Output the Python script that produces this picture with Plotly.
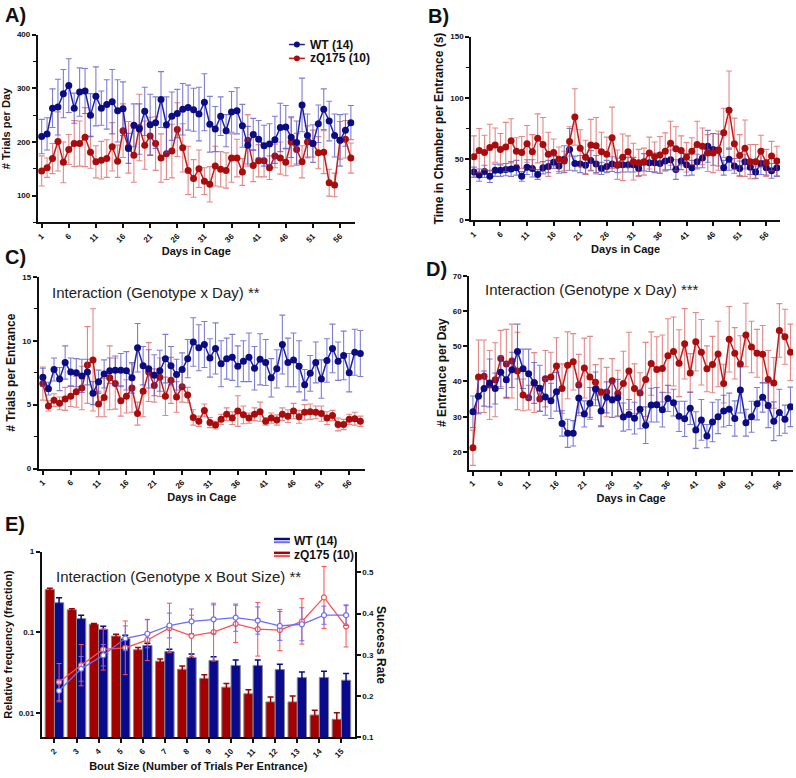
import plotly.graph_objects as go

W, H = 796, 778
def PX(v): return v / W
def PY(v): return 1 - v / H

days = list(range(1, 59))
day_ticks = list(range(1, 57, 5))

# ---------------- Panel A: # Trials per Day ----------------
A_wt = [210,215,263,265,290,305,263,293,295,250,285,263,270,275,258,262,188,231,224,257,
        232,236,279,232,248,253,261,264,260,252,274,233,224,248,221,256,258,230,194,214,
        205,193,196,204,227,228,209,199,269,212,197,234,261,239,212,203,222,236]
A_wt_err = [32,30,36,52,45,50,28,45,42,40,55,32,46,60,58,50,28,40,47,45,
            57,48,52,52,45,45,48,42,40,50,53,52,42,36,30,38,43,40,35,30,
            35,38,38,44,45,40,38,40,50,40,35,35,38,37,40,48,30,32]
A_zq = [146,152,169,201,162,186,197,197,209,181,163,166,169,191,164,221,190,175,227,194,
        211,197,170,178,183,223,189,147,132,150,127,121,155,149,147,170,170,144,203,156,
        165,165,152,174,170,162,200,186,163,200,197,180,181,124,120,203,205,170]
A_zq_err = [28,18,28,55,38,28,43,42,55,30,30,35,35,45,30,50,48,50,62,45,
            35,50,45,48,50,50,45,45,35,35,25,33,37,33,33,45,35,25,48,30,
            30,30,22,22,30,25,45,30,30,30,25,30,40,25,22,35,35,28]

# ---------------- Panel B: Time in chamber per entrance ----------------
B_wt = [39.5,37,40,36,41,41,41.5,42,43,36,43.5,42.5,37.5,43,44,47.5,44.5,50,58,46.5,
        46,45,49,46,42.5,44,46,45,45.5,45.5,45.5,42.5,47.5,47,47,46.5,48.5,49.5,41.5,48.5,
        45.5,43,48,51,60.5,58,57.5,43,50,44.5,42.5,48,43.5,39.5,46.5,43,40.5,43]
B_wt_err = [4,5,5,5,5,5,5,6,6,4,6,7,4,5,5,5,6,11,17,6,
            7,7,8,7,5,5,6,6,6,6,6,6,7,7,8,8,8,8,8,7,
            9,6,6,8,13,13,13,6,9,6,6,6,6,5,9,6,6,7]
B_zq = [52,57,55.5,59.5,61.5,58,60,65,56.5,55.5,62.5,56,67,62,54,55.5,50,48.5,64.5,84.5,
        59,51.5,61.5,61,56,54,67.5,45.5,51.5,56,48,47,48,55,52,53.5,56.5,63,58.5,57,
        51.5,56.5,62,60.5,55,55,57,71.5,90,62.5,53,59,48,48,56.5,47,52.5,48.5]
B_zq_err = [17,18,14,19,14,13,20,18,11,13,15,14,20,22,18,11,10,8,12,23,
            15,14,21,23,16,14,25,12,19,13,15,11,11,13,12,15,15,18,18,12,
            12,11,19,15,15,16,16,20,32,21,17,23,14,14,13,11,12,12]

# ---------------- Panel C: # Trials per Entrance ----------------
C_wt = [7.15,6.25,7.75,7.0,8.3,7.55,7.5,7.25,7.55,5.9,6.8,7.4,7.65,7.7,7.7,7.65,7.1,9.45,8.05,7.8,
        7.3,7.65,8.6,8.05,7.35,7.75,8.6,9.9,9.45,9.7,8.65,9.4,8.2,8.6,8.7,8.0,8.4,8.7,7.85,8.55,
        8.3,7.1,7.8,9.7,8.3,8.5,8.0,6.55,7.45,8.3,7.0,8.45,9.4,8.4,8.85,7.5,9.1,9.0]
C_wt_err = [0.7,0.5,0.9,0.9,1.3,1.1,1.1,1.3,1.0,0.9,0.9,1.1,1.0,1.1,1.3,1.5,1.2,1.9,1.5,1.5,
            1.6,1.6,1.9,1.5,1.2,1.3,1.5,1.9,1.8,1.8,1.5,2.0,1.8,1.6,1.8,1.6,1.6,1.9,1.7,2.0,
            1.8,1.5,1.5,2.3,1.9,2.1,2.0,1.2,1.4,1.6,1.5,1.7,1.9,1.5,1.9,1.5,1.8,1.8]
C_zq = [6.65,4.9,5.35,5.1,5.45,5.65,6.0,6.3,8.1,8.5,5.05,5.55,7.1,6.65,5.3,5.65,6.3,4.3,6.05,7.55,
        6.5,7.15,5.65,6.9,5.6,6.4,5.75,4.0,3.7,4.55,3.6,3.4,3.85,4.25,3.95,4.5,4.2,3.95,4.25,4.45,
        3.7,3.95,3.8,4.25,4.1,4.5,4.05,4.4,4.45,4.4,4.3,3.95,4.15,3.45,3.45,3.85,3.9,3.7]
C_zq_err = [1.3,0.4,0.5,0.5,0.9,0.8,1.2,1.7,3.0,4.0,1.0,1.5,2.5,2.0,1.2,1.3,1.9,0.9,2.0,2.3,
            1.3,1.5,1.5,1.8,1.2,1.2,0.6,0.6,0.4,0.5,0.4,0.3,0.4,0.5,0.5,1.2,0.7,0.4,0.5,0.75,
            0.3,0.4,0.4,0.5,0.5,0.6,0.5,0.6,0.6,0.5,0.6,0.5,0.4,0.5,0.4,0.4,0.5,0.4]

# ---------------- Panel D: # Entrance per Day ----------------
D_wt = [31.4,35.8,38,39.6,38,42.6,40.5,43.3,48.5,43.6,42.2,39.6,38.1,35.6,34.5,37.1,28.1,25.3,25.3,35.3,
        30.8,33.8,37.9,31.6,35.5,34.8,35.4,29.9,30.6,29.6,32.1,27.6,33.3,33.4,32,35.2,34,30.1,29.4,32.4,
        26.2,29.1,24.5,28.5,30,31.6,32.1,29.5,37.6,28.3,30,33.7,35.5,33.2,28.7,31.2,29.3,32.8]
D_wt_err = [4.5,4.7,5,6.8,4.4,4.6,5,5,7.8,5.6,7,5.8,6.5,5.2,5,5.5,3.6,4,3.6,4.2,
            3.7,4.5,4.8,4.4,4.4,5,5.2,4,4.3,4.5,5.5,5.2,4.8,4.9,4.9,3.7,3.8,4.3,5,4.6,
            5.2,5.8,3.3,5.6,4.8,4.5,4.6,5,6.5,3.8,4.4,4.6,4.2,6.3,5.5,6.6,4,5.6]
D_zq = [21.2,41.3,41.5,39,40.5,46.5,45,45.8,43,36.2,35.4,39.7,35,40.8,41.3,44.4,38,44.6,45.6,39,
        43.8,41.3,39.8,37,37,40.2,36.6,39.4,43,38,36.7,40.6,45.1,43.4,43.7,47.3,48.5,45.2,50.7,42.4,
        51.3,48.3,43.6,44.8,47.8,39.4,52,48,45,53.2,49.8,48,47.7,40.6,39.6,54.5,52.7,48.3]
D_zq_err = [5,10.5,10.3,9.8,10.5,8,9.8,10.5,11,4.5,3.5,8.5,3.5,8,7,8,7,9.5,8,8.7,
            8.5,11.5,5,9.5,7,6.3,6.6,9.2,11,7,5.8,10.5,9,9.3,9.5,10.5,9.8,9.5,10,5.5,
            8.3,9.3,6.5,8,9.3,5.5,9.3,7.3,8,9,7.3,6.8,8.2,8.2,7.2,7.6,7.8,8]

# ---------------- Panel E: Bout size ----------------
bout = list(range(2, 16))
E_freq_wt = [0.233,0.148,0.109,0.084,0.069,0.058,0.049,0.045,0.039,0.039,0.0346,0.0276,0.0276,0.0256]
E_freq_wt_err = [0.035,0.015,0.01,0.008,0.0045,0.004,0.005,0.005,0.0064,0.0064,0.0058,0.0048,0.0054,0.0054]
E_freq_zq = [0.34,0.19,0.126,0.090,0.061,0.044,0.035,0.027,0.021,0.0174,0.0138,0.0138,0.0095,0.0084]
E_freq_zq_err = [0.012,0.006,0.003,0.005,0.004,0.003,0.0035,0.003,0.0023,0.0021,0.0021,0.0025,0.0014,0.0017]
E_succ_wt = [0.213,0.266,0.299,0.340,0.351,0.371,0.381,0.386,0.390,0.383,0.370,0.374,0.396,0.396]
E_succ_wt_err = [0.027,0.03,0.026,0.03,0.034,0.03,0.03,0.035,0.033,0.033,0.035,0.04,0.022,0.025]
E_succ_zq = [0.234,0.275,0.313,0.317,0.336,0.365,0.346,0.355,0.375,0.362,0.360,0.381,0.439,0.369]
E_succ_zq_err = [0.045,0.05,0.05,0.065,0.05,0.06,0.05,0.07,0.045,0.065,0.05,0.055,0.075,0.05]

labels = ["WT (14)", "zQ175 (10)"]

# ---------------- styles ----------------
FONT = "Liberation Sans, Arial, sans-serif"
NAVY = "#0c0c82"
NAVY_LINE = "#2222a8"
NAVY_ERR = "rgba(70,70,200,0.7)"
RED = "#a80c0c"
RED_LINE = "#c41a1a"
RED_ERR = "rgba(215,70,70,0.65)"
BAR_NAVY = "#0a0a8c"
BAR_RED = "#a30000"
LN_BLUE = "#6b6bff"
LN_RED = "#ff4d4d"

fig = go.Figure()

def day_traces(xa, ya, wt, wt_err, zq, zq_err, order_red_first=False):
    tr_wt = go.Scatter(x=days, y=wt, mode="lines+markers", xaxis=xa, yaxis=ya,
                       line=dict(color=NAVY_LINE, width=1.5),
                       marker=dict(color=NAVY, size=7),
                       error_y=dict(type="data", array=wt_err, color=NAVY_ERR, thickness=1.1, width=3),
                       showlegend=False, name=labels[0])
    tr_zq = go.Scatter(x=days, y=zq, mode="lines+markers", xaxis=xa, yaxis=ya,
                       line=dict(color=RED_LINE, width=1.5),
                       marker=dict(color=RED, size=7),
                       error_y=dict(type="data", array=zq_err, color=RED_ERR, thickness=1.1, width=3),
                       showlegend=False, name=labels[1])
    if order_red_first:
        fig.add_trace(tr_zq); fig.add_trace(tr_wt)
    else:
        fig.add_trace(tr_wt); fig.add_trace(tr_zq)

day_traces("x", "y", A_wt, A_wt_err, A_zq, A_zq_err, order_red_first=True)
day_traces("x2", "y2", B_wt, B_wt_err, B_zq, B_zq_err)
day_traces("x3", "y3", C_wt, C_wt_err, C_zq, C_zq_err, order_red_first=True)
day_traces("x4", "y4", D_wt, D_wt_err, D_zq, D_zq_err, order_red_first=True)

# Panel E bars
fig.add_trace(go.Bar(x=bout, y=E_freq_zq, xaxis="x5", yaxis="y5", name=labels[1],
                     marker=dict(color=BAR_RED, line=dict(color="#8a8a8a", width=1)),
                     error_y=dict(type="data", array=E_freq_zq_err, color=BAR_RED, thickness=1.5, width=3),
                     showlegend=False))
fig.add_trace(go.Bar(x=bout, y=E_freq_wt, xaxis="x5", yaxis="y5", name=labels[0],
                     marker=dict(color=BAR_NAVY, line=dict(color="#8a8a8a", width=1)),
                     error_y=dict(type="data", array=E_freq_wt_err, color=BAR_NAVY, thickness=1.5, width=3),
                     showlegend=False))
line_offset = 0.21
bx = [b + line_offset for b in bout]
fig.add_trace(go.Scatter(x=bx, y=E_succ_zq, xaxis="x5", yaxis="y6", mode="lines+markers",
                         line=dict(color=LN_RED, width=1.3),
                         marker=dict(color="white", size=5, line=dict(color=LN_RED, width=1.2)),
                         error_y=dict(type="data", array=E_succ_zq_err, color=LN_RED, thickness=1, width=2.5),
                         showlegend=False, name=labels[1]))
fig.add_trace(go.Scatter(x=bx, y=E_succ_wt, xaxis="x5", yaxis="y6", mode="lines+markers",
                         line=dict(color=LN_BLUE, width=1.3),
                         marker=dict(color="white", size=5, line=dict(color=LN_BLUE, width=1.2)),
                         error_y=dict(type="data", array=E_succ_wt_err, color=LN_BLUE, thickness=1, width=2.5),
                         showlegend=False, name=labels[0]))

TICKFONT = dict(family=FONT, size=8, color="#111", weight="bold")
TITLEFONT = dict(family=FONT, size=11, color="#111", weight="bold")

def xax(dom, rng, anchor, tickvals=day_ticks, title="Days in Cage"):
    return dict(domain=dom, range=rng, anchor=anchor, showline=True, linecolor="#111", linewidth=2,
                ticks="outside", ticklen=4, tickwidth=1.5, tickcolor="#111",
                tickvals=tickvals, tickangle=-45, tickfont=TICKFONT, showgrid=False, zeroline=False,
                title=dict(text=title, font=TITLEFONT, standoff=4))

def yax(dom, rng, anchor, tickvals, title, minor=None, size=11):
    d = dict(domain=dom, range=rng, anchor=anchor, showline=True, linecolor="#111", linewidth=2,
             ticks="outside", ticklen=4, tickwidth=1.5, tickcolor="#111",
             tickvals=tickvals, tickfont=TICKFONT, showgrid=False, zeroline=False,
             title=dict(text=title, font=dict(family=FONT, size=size, color="#111", weight="bold"), standoff=4))
    if minor:
        d["minor"] = dict(dtick=minor, ticks="outside", ticklen=3, tickwidth=1.2, tickcolor="#111", showgrid=False)
    return d

layout = dict(
    width=W, height=H, margin=dict(l=0, r=0, t=0, b=0),
    paper_bgcolor="white", plot_bgcolor="white",
    font=dict(family=FONT, color="#111"),
    barmode="group", bargap=0.16, bargroupgap=0,
    xaxis=xax([PX(35), PX(353)], [0.3, 58.7], "y"),
    yaxis=yax([PY(221), PY(31)], [50, 400], "x", [100, 200, 300, 400], "# Trials per Day", minor=50),
    xaxis2=xax([PX(470), PX(780)], [0.5, 58.6], "y2"),
    yaxis2=yax([PY(219), PY(33)], [0, 150], "x2", [0, 50, 100, 150], "Time in Chamber per Entrance (s)", minor=25, size=12),
    xaxis3=xax([PX(36), PX(363)], [0.28, 58.77], "y3"),
    yaxis3=yax([PY(470), PY(276)], [0, 15], "x3", [0, 5, 10, 15], "# Trials per Entrance", minor=2.5, size=12),
    xaxis4=xax([PX(468), PX(793)], [0.34, 58.45], "y4"),
    yaxis4=yax([PY(471), PY(275)], [15, 70], "x4", [20, 30, 40, 50, 60, 70], "# Entrance per Day", size=12),
    xaxis5=xax([PX(39), PX(353)], [1.43, 15.6], "y5", tickvals=bout,
               title="Bout Size (Number of Trials Per Entrance)"),
    yaxis5=dict(yax([PY(742), PY(554)], [-2.3, 0], "x5", [0.01, 0.1, 1], "Relative frequency (fraction)"),
                type="log", ticktext=["0.01", "0.1", "1"]),
    yaxis6=dict(domain=[PY(742), PY(554)], range=[0.1, 0.55], anchor="x5", overlaying="y5", side="right",
                showline=True, linecolor="#111", linewidth=2, ticks="outside", ticklen=4, tickwidth=1.5,
                tickcolor="#111", tickvals=[0.1, 0.2, 0.3, 0.4, 0.5], ticktext=["0.1", "0.2", "0.3", "0.4", "0.5"],
                tickfont=TICKFONT, showgrid=False, zeroline=False),
)
fig.update_layout(**layout)

ann = []
def label(txt, xp, yp, size=20):
    ann.append(dict(text=txt, x=PX(xp), y=PY(yp), xref="paper", yref="paper", xanchor="left", yanchor="top",
                    showarrow=False, font=dict(family=FONT, size=size, color="#111", weight="bold")))
label("A)", 0, -2)
label("B)", 425, -1)
label("C)", 0, 243)
label("D)", 423, 255)
label("E)", 0, 513)

def note(txt, xp, yc):
    ann.append(dict(text=txt, x=PX(xp), y=PY(yc), xref="paper", yref="paper", xanchor="left", yanchor="middle",
                    showarrow=False, font=dict(family=FONT, size=15, color="#222")))
note("Interaction (Genotype x Day) **", 47, 292)
note("Interaction (Genotype x Day) ***", 482, 289)
note("Interaction (Genotype x Bout Size) **", 51, 579)

# right axis title for E (reads top to bottom)
ann.append(dict(text="Success Rate", x=PX(380), y=PY(648), xref="paper", yref="paper", textangle=90,
                xanchor="center", yanchor="middle",
                showarrow=False, font=dict(family=FONT, size=12, color="#111", weight="bold")))

shapes = []
# Legend panel A
for i, (lab, mc, lc) in enumerate([(labels[0], NAVY, NAVY_LINE), (labels[1], RED, RED_LINE)]):
    yc = 41 + i * 14
    shapes.append(dict(type="line", xref="paper", yref="paper", x0=PX(287), x1=PX(303), y0=PY(yc), y1=PY(yc),
                       line=dict(color=lc, width=1.5)))
    shapes.append(dict(type="circle", xref="paper", yref="paper", x0=PX(292), x1=PX(298), y0=PY(yc + 3), y1=PY(yc - 3),
                       fillcolor=mc, line=dict(color=mc, width=0)))
    ann.append(dict(text=lab, x=PX(306), y=PY(yc), xref="paper", yref="paper", xanchor="left", yanchor="middle",
                    showarrow=False, font=dict(family=FONT, size=12, color="#111", weight="bold")))
# Legend panel E
for i, (lab, bc, lc) in enumerate([(labels[0], BAR_NAVY, LN_BLUE), (labels[1], BAR_RED, LN_RED)]):
    yc = 543 + i * 14
    shapes.append(dict(type="rect", xref="paper", yref="paper", x0=PX(272), x1=PX(288), y0=PY(yc - 0.5), y1=PY(yc - 3),
                       fillcolor=bc, line=dict(width=0)))
    shapes.append(dict(type="rect", xref="paper", yref="paper", x0=PX(272), x1=PX(288), y0=PY(yc + 2.5), y1=PY(yc + 0.5),
                       fillcolor=lc, line=dict(width=0)))
    ann.append(dict(text=lab, x=PX(290), y=PY(yc), xref="paper", yref="paper", xanchor="left", yanchor="middle",
                    showarrow=False, font=dict(family=FONT, size=12, color="#111", weight="bold")))

fig.update_layout(annotations=ann, shapes=shapes)
fig.write_html("out.html")
